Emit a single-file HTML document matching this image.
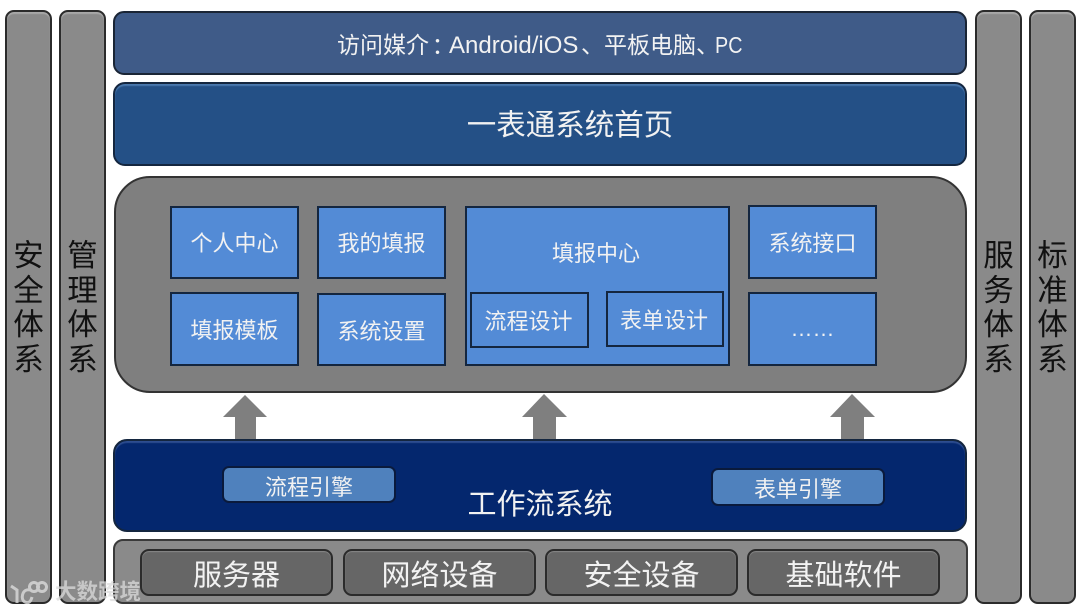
<!DOCTYPE html>
<html><head><meta charset="utf-8">
<style>
html,body{margin:0;padding:0;background:#fff}
#c{position:relative;width:1080px;height:614px;overflow:hidden;background:#fff;font-family:"Liberation Sans","Noto Sans CJK SC",sans-serif;filter:blur(.35px)}
.b{position:absolute;box-sizing:border-box;display:flex;align-items:center;justify-content:center;color:#f2f2f2;white-space:nowrap;text-align:center}
.v{background:#8a8a8a;border:2px solid #2b2b2b;border-radius:9px;font-size:30.5px;line-height:34.5px;white-space:normal;box-shadow:inset 0 2px 1px #a8a8a8;color:#111}
.t{background:#538bd6;border:2px solid #14263f;font-size:22px}
.s{background:#666;border:2px solid #2b2b2b;border-radius:9px;font-size:29px;box-shadow:inset 0 1px 1px #888}
.e{background:#4f81bd;border:2px solid #0a1a3c;border-radius:7px;font-size:22px}
.a{position:absolute}
</style></head><body><div id="c">
<div class="b v" style="left:5px;top:10px;width:47px;height:594px"><span style="width:31px;margin-top:2px">安全体系</span></div>
<div class="b v" style="left:59px;top:10px;width:47px;height:594px"><span style="width:31px;margin-top:2px">管理体系</span></div>
<div class="b v" style="left:975px;top:10px;width:47px;height:594px"><span style="width:31px;margin-top:2px">服务体系</span></div>
<div class="b v" style="left:1029px;top:10px;width:47px;height:594px"><span style="width:31px;margin-top:2px">标准体系</span></div>

<div class="b" style="left:113px;top:11px;width:854px;height:64px;background:#3f5b88;border:2px solid #1a2535;border-radius:11px;font-size:23px"><span style="position:absolute;left:222px;top:16px;line-height:32px">访问媒介</span><span style="position:absolute;left:311px;top:18px;line-height:32px;font-family:'Liberation Sans','Noto Sans CJK TC',sans-serif">：</span><span style="position:absolute;left:334px;top:17px;line-height:32px;font-size:24px">Android/iOS</span><span style="position:absolute;left:466px;top:16px;line-height:32px">、平板电脑、</span><span style="position:absolute;left:600px;top:16px;line-height:32px;display:inline-block;transform:scaleX(.86);transform-origin:left center">PC</span></div>
<div class="b" style="left:113px;top:82px;width:854px;height:84px;background:#245086;border:2px solid #14263f;border-radius:12px;font-size:29.5px;box-shadow:inset 0 2px 1px #4a78ad;padding-left:60px;padding-bottom:3px">一表通系统首页</div>
<div class="b" style="left:114px;top:176px;width:853px;height:217px;background:#7f7f7f;border:2px solid #333;border-radius:36px"></div>

<div class="b t" style="left:170px;top:206px;width:129px;height:73px;padding-bottom:2px">个人中心</div>
<div class="b t" style="left:317px;top:206px;width:129px;height:73px;padding-bottom:2px">我的填报</div>
<div class="b t" style="left:170px;top:292px;width:129px;height:74px">填报模板</div>
<div class="b t" style="left:317px;top:293px;width:129px;height:73px">系统设置</div>
<div class="b t" style="left:748px;top:205px;width:129px;height:74px">系统接口</div>
<div class="b t" style="left:748px;top:292px;width:129px;height:74px">……</div>
<div class="b t" style="left:465px;top:206px;width:265px;height:160px;align-items:flex-start;padding-top:32px;padding-right:3px"><span style="margin-top:-4px">填报中心</span></div>
<div class="b t" style="left:470px;top:292px;width:119px;height:56px;padding-right:2px">流程设计</div>
<div class="b t" style="left:606px;top:291px;width:118px;height:56px;padding-right:2px">表单设计</div>

<svg class="a" style="left:0;top:0" width="1080" height="614">
<polygon points="245,395 267,417 256,417 256,440 235,440 235,417 223,417" fill="#7f7f7f"/>
<polygon points="544,394 567,417 556,417 556,440 533,440 533,417 522,417" fill="#7f7f7f"/>
<polygon points="852,394 875,417 864,417 864,440 841,440 841,417 830,417" fill="#7f7f7f"/>
</svg>

<div class="b" style="left:113px;top:439px;width:854px;height:93px;background:#04276e;border:2px solid #14263f;border-radius:14px;font-size:29px;padding-top:33px;box-shadow:inset 0 2px 1px #2d4d8f">工作流系统</div>
<div class="b e" style="left:222px;top:466px;width:174px;height:37px;padding-top:2px">流程引擎</div>
<div class="b e" style="left:711px;top:468px;width:174px;height:38px;padding-top:2px">表单引擎</div>

<div class="b" style="left:113px;top:539px;width:855px;height:65px;background:#8a8a8a;border:2px solid #3a3a3a;border-radius:10px"></div>
<div class="b s" style="left:140px;top:549px;width:193px;height:47px">服务器</div>
<div class="b s" style="left:343px;top:549px;width:193px;height:47px">网络设备</div>
<div class="b s" style="left:545px;top:549px;width:193px;height:47px">安全设备</div>
<div class="b s" style="left:747px;top:549px;width:193px;height:47px">基础软件</div>

<svg class="a" style="left:0;top:0;opacity:.8" width="150" height="614" fill="none" stroke="#dcdcdc" stroke-width="3">
<path d="M11 586 L17 590 L17 603 M30 590 C22 588 20 600 25 602 C29 604 31 601 32 597"/>
<circle cx="34" cy="587" r="4.5"/><circle cx="42" cy="587" r="4.5"/>
</svg>
<div class="a" style="left:55px;top:579px;color:#dcdcdc;font-size:21.5px;line-height:26px;font-weight:bold;opacity:.75;white-space:nowrap">大数跨境</div>
</div></body></html>
